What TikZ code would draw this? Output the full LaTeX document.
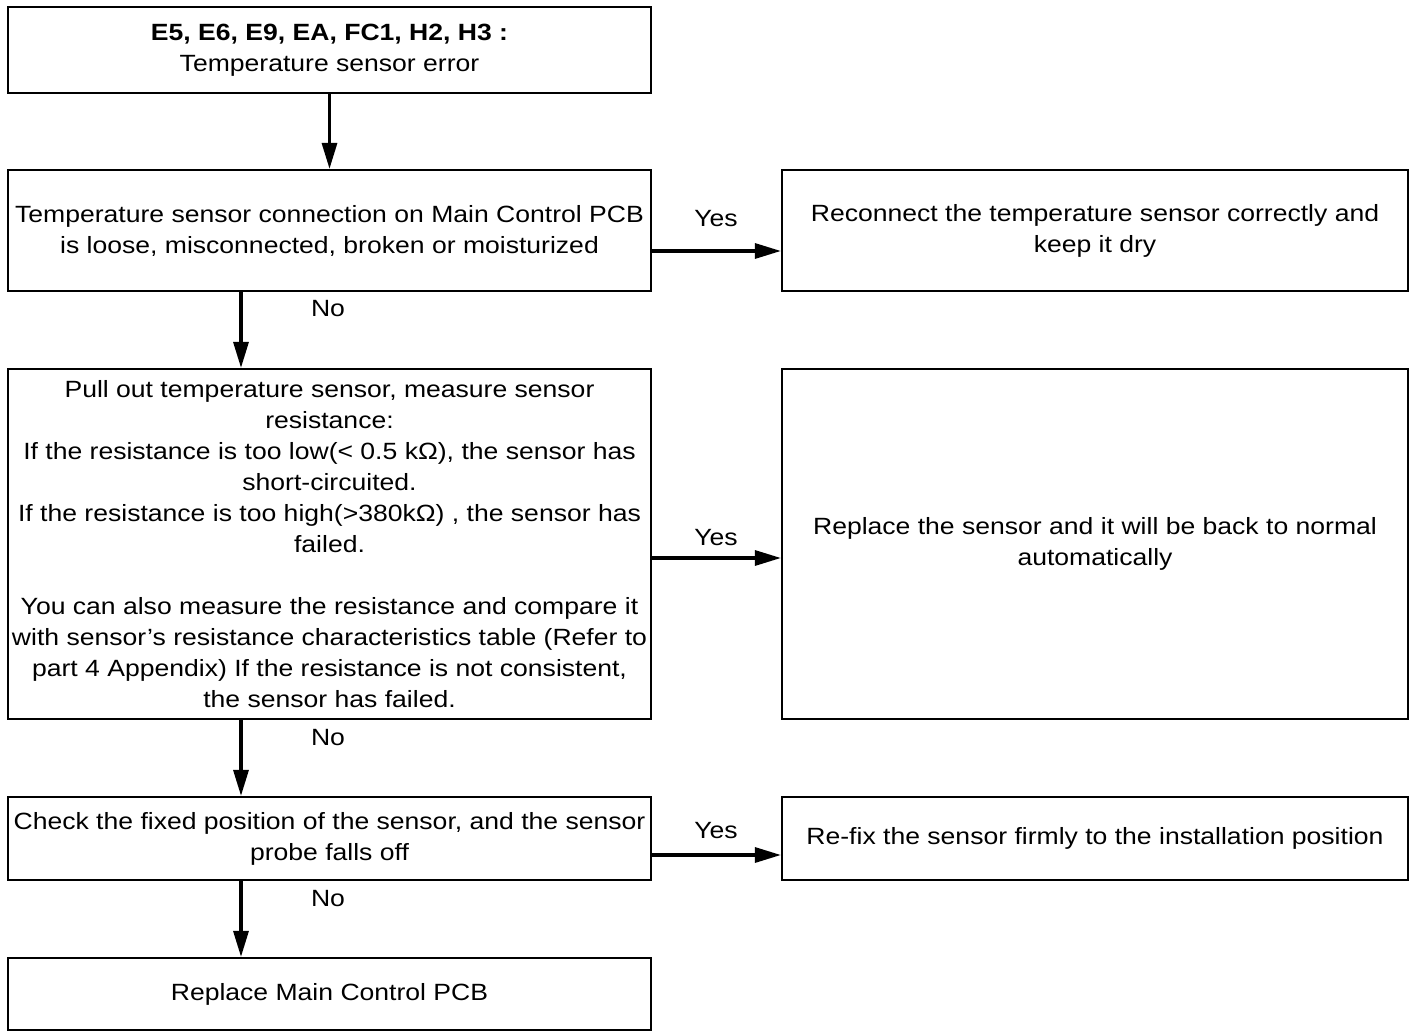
\documentclass[tikz,border=0pt]{standalone}
\usepackage{fontspec}
\setmainfont{Liberation Sans}[FakeStretch=1.13]
\usetikzlibrary{arrows.meta}

\tikzset{
  box/.style={draw, line width=2.2pt, align=center, inner sep=0pt,
    minimum width=643pt, font=\fontsize{23.5}{31}\selectfont},
  rbox/.style={box, minimum width=626pt},
  arr/.style={line width=3.2pt, -{Triangle[length=26pt,width=15pt]}},
  lbl/.style={font=\fontsize{23.5}{31}\selectfont}
}

\begin{document}
\begin{tikzpicture}[x=1pt, y=-1pt]

  % 画布范围
  \useasboundingbox (0,0) rectangle (1414,1032);

  % 左列：判断框
  \node[box, minimum height=86pt] (err) at (329.5,50)
       {\textbf{E5, E6, E9, EA, FC1, H2, H3 :}\\Temperature sensor error};
  \node[box, minimum height=121pt] (conn) at (329.5,230.5)
       {Temperature sensor connection on Main Control PCB\\is loose, misconnected, broken or moisturized};
  \node[box, minimum height=350pt] (meas) at (329.5,544)
       {Pull out temperature sensor, measure sensor\\resistance:\\
        If the resistance is too low(< 0.5 kΩ), the sensor has\\short-circuited.\\
        If the resistance is too high(>380kΩ) , the sensor has\\failed.\\[31pt]
        You can also measure the resistance and compare it\\
        with sensor’s resistance characteristics table (Refer to\\
        part 4 Appendix) If the resistance is not consistent,\\
        the sensor has failed.};
  \node[box, minimum height=83pt] (fix) at (329.5,838.5)
       {Check the fixed position of the sensor, and the sensor\\probe falls off};
  \node[box, minimum height=72pt] (pcb) at (329.5,994)
       {Replace Main Control PCB};

  % 右列：处理措施
  \node[rbox, minimum height=121pt] (reconn) at (1095,230.5)
       {Reconnect the temperature sensor correctly and\\keep it dry};
  \node[rbox, minimum height=350pt] (repl) at (1095,544)
       {Replace the sensor and it will be back to normal\\automatically};
  \node[rbox, minimum height=83pt] (refix) at (1095,838.5)
       {Re-fix the sensor firmly to the installation position};

  % 向下的箭头（No）
  \draw[arr] (err.south) -- (conn.north);
  \draw[arr] ([xshift=-88.5pt]conn.south) -- ([xshift=-88.5pt]meas.north);
  \draw[arr] ([xshift=-88.5pt]meas.south) -- ([xshift=-88.5pt]fix.north);
  \draw[arr] ([xshift=-88.5pt]fix.south) -- ([xshift=-88.5pt]pcb.north);
  \node[lbl] (no1) at (328,309) {No};
  \node[lbl] (no2) at (328,738) {No};
  \node[lbl] (no3) at (328,899) {No};

  % 向右的箭头（Yes）
  \draw[arr] ([yshift=-20.5pt]conn.east) -- ([yshift=-20.5pt]reconn.west);
  \draw[arr] ([yshift=-14pt]meas.east) -- ([yshift=-14pt]repl.west);
  \draw[arr] ([yshift=-16.5pt]fix.east) -- ([yshift=-16.5pt]refix.west);
  \node[lbl] (yes1) at (716,219) {Yes};
  \node[lbl] (yes2) at (716,538) {Yes};
  \node[lbl] (yes3) at (716,831) {Yes};

\end{tikzpicture}
\end{document}
